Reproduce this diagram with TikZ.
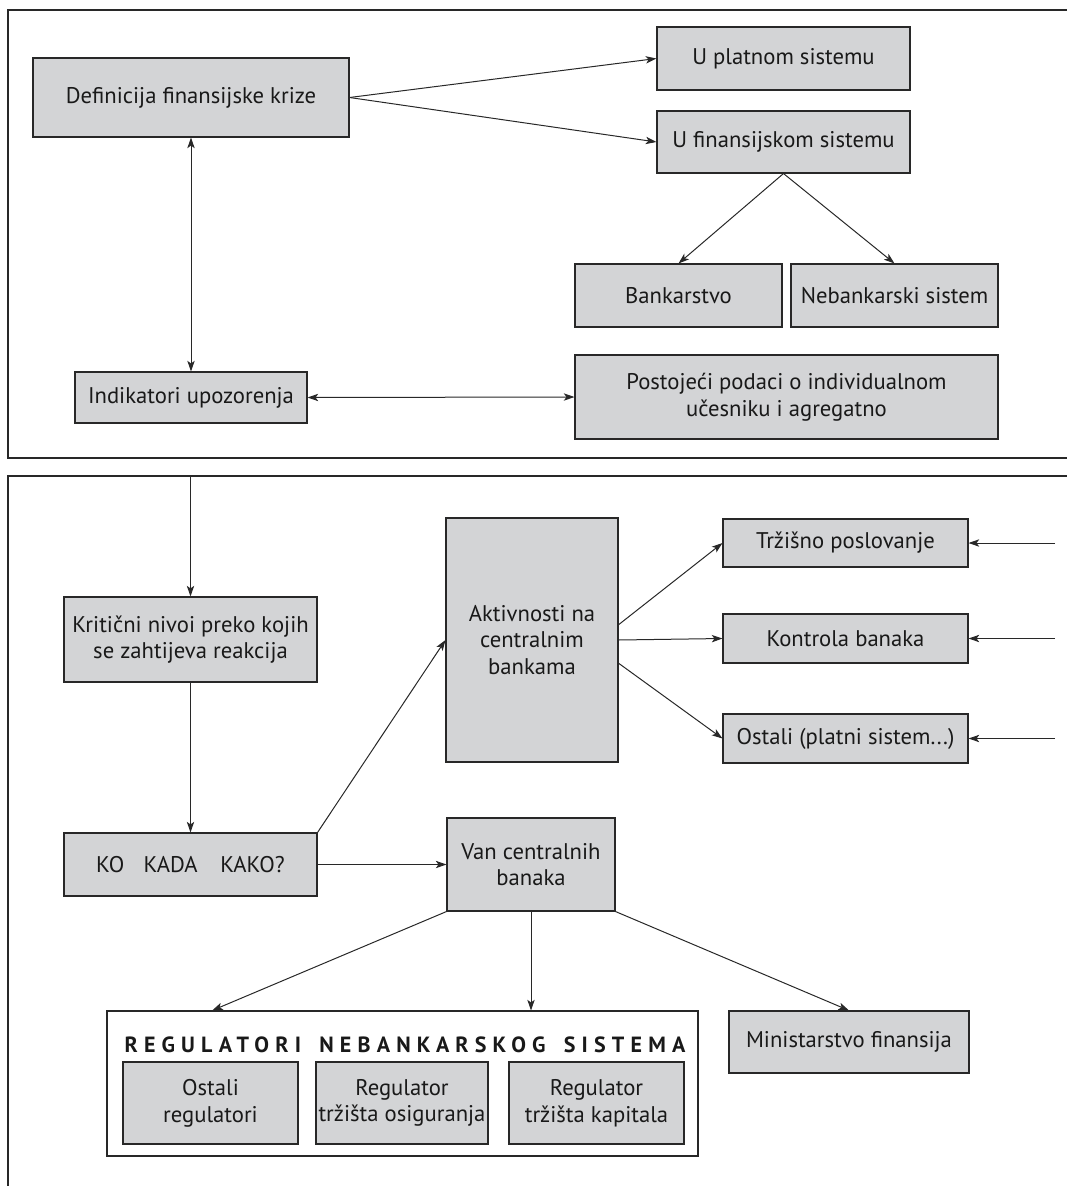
\documentclass[tikz,border=0pt]{standalone}
\usepackage{fontspec}
\setmainfont{PT Sans}
\usetikzlibrary{arrows.meta}

\definecolor{boxgray}{RGB}{211,212,214}
\definecolor{linegray}{RGB}{40,40,40}

\begin{document}
\begin{tikzpicture}[x=0.75pt,y=0.75pt,yscale=-1,
	sz/.style 2 args={minimum width=#1*0.75pt,minimum height=#2*0.75pt},
	box/.style={draw=linegray,line width=0.8pt,fill=boxgray,align=center,inner sep=0pt,
		text=black!90,font=\fontsize{17}{20}\selectfont},
	arr/.style={draw=linegray,line width=0.75pt,-{Stealth[length=8pt,width=5.5pt,inset=2pt]}},
	darr/.style={draw=linegray,line width=0.75pt,{Stealth[length=8pt,width=5.5pt,inset=2pt]}-{Stealth[length=8pt,width=5.5pt,inset=2pt]}},
	frame/.style={draw=linegray,line width=1pt}]
			\useasboundingbox (0,0) rectangle (1067,1186);
			%Shape: Frame (upper)
			\draw [frame] (1067,10) -- (8,10) -- (8,458) -- (1067,458) ;
			%Shape: Frame (lower)
			\draw [frame] (1067,476) -- (8,476) -- (8,1186) ;
			\coordinate (gate) at (190.5,476) ;
			
			% Text Node
			\node [box,sz={316}{79}] (def) at (191,97.5) {Definicija finansijske krize};
			% Text Node
			\node [box,sz={253}{63}] (plat) at (783.5,58.5) {U platnom sistemu};
			% Text Node
			\node [box,sz={253}{62}] (fin) at (783.5,142) {U finansijskom sistemu};
			% Text Node
			\node [box,sz={207}{63}] (bank) at (678.5,295.5) {Bankarstvo};
			% Text Node
			\node [box,sz={207}{63}] (nebank) at (894.5,295.5) {Nebankarski sistem};
			% Text Node
			\node [box,sz={232}{51}] (ind) at (191,397.5) {Indikatori upozorenja};
			% Text Node
			\node [box,sz={423}{84}] (pod) at (786.5,397) {Postojeći podaci o individualnom\\učesniku i agregatno};
			
			%Straight Lines
			\draw [arr] (def.east) -- (plat.west) ;
			\draw [arr] (def.east) -- (fin.west) ;
			\draw [arr] (fin.south) -- (bank.north) ;
			\draw [arr] (fin.south) -- (nebank.north) ;
			\draw [darr] (def.south) -- (ind.north) ;
			\draw [darr] (ind.east) -- (pod.west) ;
			
			% Text Node
			\node [box,sz={253}{85}] (kri) at (190.5,639.5) {Kritični nivoi preko kojih\\se zahtijeva reakcija};
			% Text Node
			\node [box,sz={253}{63}] (ko) at (190.5,864.5) {KO\hspace{0.85em}KADA\hspace{1em}KAKO?};
			% Text Node
			\node [box,sz={172}{244}] (akt) at (532,640) {Aktivnosti na\\centralnim\\bankama};
			% Text Node
			\node [box,sz={168}{93}] (van) at (531,864.5) {Van centralnih\\banaka};
			% Text Node
			\node [box,sz={245}{48}] (trz) at (845.5,543) {Tržišno poslovanje};
			% Text Node
			\node [box,sz={245}{49}] (kon) at (845.5,638.5) {Kontrola banaka};
			% Text Node
			\node [box,sz={245}{49}] (ost) at (845.5,738.5) {Ostali (platni sistem...)};
			\coordinate (in1) at (1055,543) ;
			\coordinate (in2) at (1055,638.5) ;
			\coordinate (in3) at (1055,738.5) ;
			
			%Shape: Rectangle (regulatori)
			\node [draw=linegray,line width=0.8pt,fill=white,sz={591}{145}] (reg) at (402.5,1083.5) {};
			% Text Node
			\node [text=black!90,font=\fontsize{16.5}{18}\bfseries\addfontfeatures{LetterSpace=28}] (regtitle) at (405,1045) {REGULATORI\hspace{0.3em} NEBANKARSKOG\hspace{0.3em} SISTEMA};
			% Text Node
			\node [box,sz={175}{82}] (reg1) at (210.5,1103) {Ostali\\regulatori};
			% Text Node
			\node [box,sz={172}{82}] (reg2) at (402,1103) {Regulator\\tržišta osiguranja};
			% Text Node
			\node [box,sz={175}{82}] (reg3) at (596.5,1103) {Regulator\\tržišta kapitala};
			% Text Node
			\node [box,sz={240}{62}] (min) at (849,1042) {Ministarstvo finansija};
			
			%Straight Lines
			\draw [arr] (gate) -- (kri.north) ;
			\draw [arr] (kri.south) -- (ko.north) ;
			\draw [arr] (ko.north east) -- (akt.west) ;
			\draw [arr] (ko.east) -- (van.west) ;
			\draw [arr] (akt.10) -- (trz.west) ;
			\draw [arr] (akt.east) -- (kon.west) ;
			\draw [arr] (akt.-15) -- (ost.west) ;
			\draw [arr] (in1) -- (trz.east) ;
			\draw [arr] (in2) -- (kon.east) ;
			\draw [arr] (in3) -- (ost.east) ;
			\draw [arr] (van.south west) -- (reg.159) ;
			\draw [arr] (van.south) -- (van.south |- reg.north) ;
			\draw [arr] (van.south east) -- (min.north) ;
		\end{tikzpicture}
\end{document}
